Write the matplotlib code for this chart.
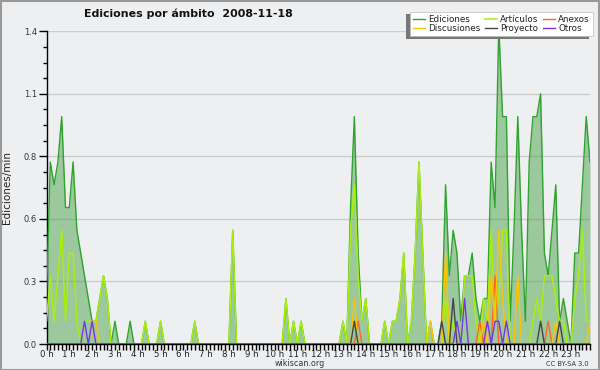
import matplotlib
matplotlib.use("Agg")
import matplotlib.pyplot as plt
from matplotlib.ticker import MultipleLocator, AutoMinorLocator
from matplotlib.patches import Rectangle
import numpy as np

# edits per 10-minute bin (value in edits/min = count / 10), 144 bins = 24 h
ediciones = [2, 8, 7, 8, 10, 6,   6, 8, 5, 4, 3, 2,   1, 1, 2, 3, 2, 0,   1, 0, 0, 0, 1, 0,
             0, 0, 1, 0, 0, 0,    1, 0, 0, 0, 0, 0,   0, 0, 0, 1, 0, 0,   0, 0, 0, 0, 0, 0,
             0, 5, 0, 0, 0, 0,    0, 0, 0, 0, 0, 0,   0, 0, 0, 2, 0, 1,   0, 1, 0, 0, 0, 0,
             0, 0, 0, 0, 0, 0,    1, 0, 6, 10, 4, 1,  2, 0, 0, 0, 0, 1,   0, 1, 1, 2, 4, 0,
             1, 4, 8, 4, 0, 1,    0, 0, 1, 7, 3, 5,   4, 1, 3, 3, 4, 2,   1, 2, 2, 8, 6, 14,
             10, 10, 1, 5, 10, 5, 1, 8, 10, 10, 11, 4, 3, 5, 7, 1, 2, 1,  0, 4, 4, 7, 10, 8]
articulos = [1, 3, 1, 3, 5, 1,   4, 4, 1, 0, 1, 1,   1, 1, 2, 3, 2, 0,   0, 0, 0, 0, 0, 0,
             0, 0, 1, 0, 0, 0,   1, 0, 0, 0, 0, 0,   0, 0, 0, 1, 0, 0,   0, 0, 0, 0, 0, 0,
             0, 5, 0, 0, 0, 0,   0, 0, 0, 0, 0, 0,   0, 0, 0, 2, 0, 1,   0, 1, 0, 0, 0, 0,
             0, 0, 0, 0, 0, 0,   1, 0, 5, 7, 3, 1,   2, 0, 0, 0, 0, 1,   0, 1, 1, 2, 4, 0,
             1, 4, 8, 4, 0, 1,   0, 0, 0, 2, 0, 1,   0, 0, 3, 3, 3, 1,   0, 2, 1, 5, 1, 2,
             5, 5, 0, 0, 0, 0,   0, 0, 1, 2, 1, 3,   3, 3, 2, 1, 1, 0,   0, 2, 3, 5, 1, 1]
anexos_bins = {82: 1, 114: 1, 118: 3, 132: 1}
discusiones_bins = {12: 1, 13: 1, 81: 2, 101: 1, 105: 4, 115: 1, 117: 3, 118: 1,
                    119: 5, 120: 2, 124: 3, 134: 1, 143: 1}
proyecto_bins = {81: 1, 104: 1, 107: 2, 130: 1, 135: 1}
otros_bins = {10: 1, 12: 1, 108: 1, 110: 2, 116: 1, 118: 1, 119: 1, 121: 1}

hour_labels = [f"{h} h" for h in range(24)]
y_ticks = [0, 0.275, 0.55, 0.825, 1.1, 1.375]
y_tick_labels = ["0.0", "0.3", "0.6", "0.8", "1.1", "1.4"]

n_bins = 144
def expand(d):
    arr = np.zeros(n_bins)
    for k, v in d.items():
        arr[k] = v
    return arr

x = np.arange(n_bins) / 6.0
ed = np.array(ediciones) / 10.0
art = np.array(articulos) / 10.0
anx = expand(anexos_bins) / 10.0
dis = expand(discusiones_bins) / 10.0
pro = expand(proyecto_bins) / 10.0
otr = expand(otros_bins) / 10.0

BG = "#eeeff1"
fig = plt.figure(figsize=(6, 3.7), dpi=100, facecolor=BG)
ax = fig.add_axes([46.5/600, 1-344/370, (590-46.5)/600, (344-31.3)/370])
ax.set_facecolor(BG)

ax.fill_between(x, 0, ed, color="#3a9a3a", alpha=0.45, lw=0, zorder=2)
l_ed, = ax.plot(x, ed, color="#2fa22f", lw=1.0, zorder=3)
l_art, = ax.plot(x, art, color="#aaee11", lw=1.1, zorder=4)
l_anx, = ax.plot(x, anx, color="#ff6622", lw=1.0, zorder=5)
l_dis, = ax.plot(x, dis, color="#ffc400", lw=1.0, zorder=5)
l_pro, = ax.plot(x, pro, color="#444444", lw=1.0, zorder=6)
l_otr, = ax.plot(x, otr, color="#7733ee", lw=1.0, zorder=6)

ax.set_xlim(0, 143/6)
ax.set_ylim(0, 1.375)
ax.set_xticks(range(24))
ax.set_xticklabels(hour_labels)
ax.xaxis.set_minor_locator(MultipleLocator(1/6))
ax.set_yticks(y_ticks)
ax.set_yticklabels(y_tick_labels)
ax.yaxis.set_minor_locator(AutoMinorLocator(4))
ax.grid(axis="y", which="major", color="#cccccc", lw=1.0, zorder=1)
ax.set_axisbelow(True)
for s in ["top", "right"]:
    ax.spines[s].set_visible(False)
for s in ["left", "bottom"]:
    ax.spines[s].set_color("black")
    ax.spines[s].set_linewidth(1.0)
ax.tick_params(axis="x", which="both", direction="out", length=4, width=1, pad=0.5,
               labelsize=6.2, labelcolor="#222222")
ax.tick_params(axis="y", which="major", direction="out", length=6, width=1, pad=1,
               labelsize=6, labelcolor="#333333")
ax.tick_params(axis="y", which="minor", direction="out", length=3, width=1)
ax.set_ylabel("Ediciones/min", fontsize=7.5, color="#222222")
ax.yaxis.set_label_coords(-0.064, 0.5)

fig.text(188.5/600, 1-14/370, "Ediciones por ámbito  2008-11-18", ha="center", va="center",
         fontsize=7.9, fontweight="bold", color="#111111")
fig.text(300/600, 1-364/370, "wikiscan.org", ha="center", va="center", fontsize=5.8,
         color="#333333")
fig.text(589/600, 1-364/370, "CC BY-SA 3.0", ha="right", va="center", fontsize=4.8,
         color="#333333")

handles = [l_ed, l_dis, l_art, l_pro, l_anx, l_otr]
labels = ["Ediciones", "Discusiones", "Artículos", "Proyecto", "Anexos", "Otros"]
leg = fig.legend(handles, labels, ncol=3, loc="upper right",
                 bbox_to_anchor=(593/600, 1-11.5/370), fontsize=6.3, frameon=True,
                 fancybox=False, borderpad=0.35, handlelength=1.4, handletextpad=0.4,
                 columnspacing=0.45, labelspacing=0.05, borderaxespad=0)
leg.get_frame().set_facecolor("white")
leg.get_frame().set_edgecolor("#bbbbbb")
leg.get_frame().set_linewidth(0.5)
leg.get_frame().set_alpha(1)
for t in leg.get_texts():
    t.set_color("#222222")
leg.set_zorder(10)

fig.canvas.draw()
bb = leg.get_window_extent()
inv = fig.transFigure.inverted()
(x0, y0) = inv.transform((bb.x0 - 4, bb.y0 - 3))
(x1, y1) = inv.transform((bb.x1 - 4, bb.y1 - 3))
fig.patches.append(Rectangle((x0, y0), x1 - x0, y1 - y0, transform=fig.transFigure,
                             facecolor="#777777", edgecolor="none", zorder=9))
fig.patches.append(Rectangle((0.001, 0.001), 0.998, 0.997, transform=fig.transFigure,
                             fill=False, edgecolor="#999999", lw=1.5, zorder=20))

fig.savefig("out.png", dpi=100, facecolor=BG)
